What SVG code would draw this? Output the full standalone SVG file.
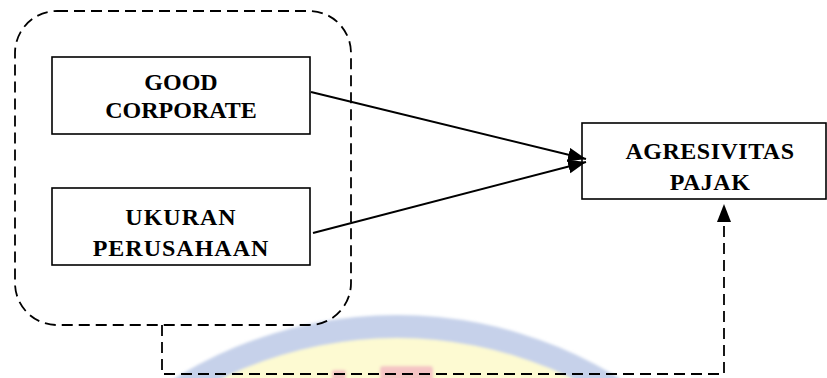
<svg xmlns="http://www.w3.org/2000/svg" width="827" height="378" viewBox="0 0 827 378">
<style>
.box{fill:none;stroke:#000;stroke-width:1.6}
.lbl{font-family:"Liberation Serif","Times New Roman",serif;font-weight:bold;font-size:24px;fill:#000;text-anchor:middle}
.dash{fill:none;stroke:#000;stroke-width:1.8;stroke-dasharray:11 6}
.conn{fill:none;stroke:#000;stroke-width:2}
</style>
<defs>
<marker id="ah" markerUnits="userSpaceOnUse" markerWidth="20" markerHeight="16" refX="18" refY="7" orient="auto">
<path d="M0,0 L18,7 L0,14 Z" fill="#000"/>
</marker>
<filter id="blur"><feGaussianBlur stdDeviation="1.5"/></filter>
</defs>
<g id="watermark" filter="url(#blur)">
<circle cx="397" cy="737" r="422" fill="#c6d1ea"/>
<circle cx="397" cy="737" r="399" fill="#fdfad2"/>
<rect x="380" y="366" width="53" height="20" rx="3" fill="#f4c4c4"/>
<rect x="332" y="370" width="14" height="14" rx="2" fill="#f4c4c4"/>
</g>
<g id="group">
<rect class="dash" x="15" y="11" width="336" height="314" rx="42" ry="42"/>
</g>
<g id="good-corporate">
<rect class="box" x="52" y="57" width="258" height="77"/>
<text class="lbl" x="181" y="90">GOOD</text>
<text class="lbl" x="181" y="118">CORPORATE</text>
</g>
<g id="ukuran-perusahaan">
<rect class="box" x="52" y="188" width="258" height="77"/>
<text class="lbl" x="181" y="225" letter-spacing="1">UKURAN</text>
<text class="lbl" x="181" y="256" letter-spacing="1">PERUSAHAAN</text>
</g>
<g id="agresivitas-pajak">
<rect class="box" x="582" y="123" width="244" height="76"/>
<text class="lbl" x="710" y="159" letter-spacing="0.5">AGRESIVITAS</text>
<text class="lbl" x="710" y="190" letter-spacing="0.5">PAJAK</text>
</g>
<g id="connectors">
<line class="conn" x1="311" y1="92" x2="586" y2="159" marker-end="url(#ah)"/>
<line class="conn" x1="313" y1="233" x2="586" y2="162" marker-end="url(#ah)"/>
<path class="dash" d="M162,325 V374 H724 V204" marker-end="url(#ah)"/>
</g>
</svg>
